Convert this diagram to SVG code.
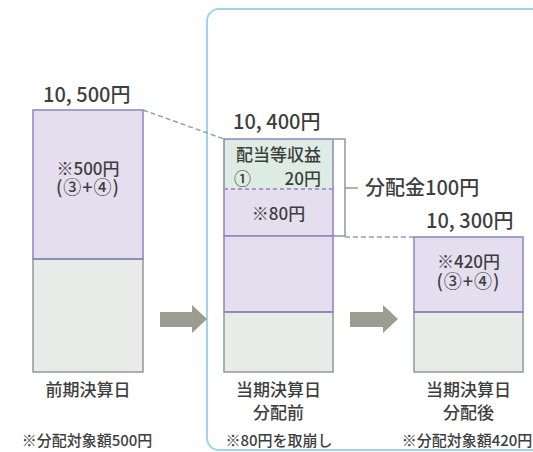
<svg xmlns="http://www.w3.org/2000/svg" width="533" height="452" viewBox="0 0 533 452">
<style>
text{font-family:"Noto Sans CJK JP","Noto Sans",sans-serif;fill:#3e3e3e;font-weight:500}
.big{font-size:20px}
.mid{font-size:17px}
.par{font-size:18px;letter-spacing:1px}
.note{font-size:15px}
.pur{fill:#e4deee;stroke:#8c84bc;stroke-width:1.5}
.gry{fill:#e9ebe9;stroke:#8c9a9c;stroke-width:1.5}
.grn{fill:#ddede4;stroke:#8c84bc;stroke-width:1.5}
.dash{fill:none;stroke:#8ea2b2;stroke-width:1.5;stroke-dasharray:5 3}
.brk{fill:none;stroke:#8c9aa0;stroke-width:1.5}
.arr{fill:#9c9c90}
</style>
<rect width="533" height="452" fill="#ffffff"/>
<rect id="period-frame" x="207" y="9" width="360" height="441" rx="12" ry="12" fill="none" stroke="#a2d2ec" stroke-width="2"/>

<g id="prev-settlement">
<text class="big" x="43" y="102">10, 500円</text>
<rect class="pur" x="33" y="110" width="110" height="149"/>
<rect class="gry" x="33" y="259" width="110" height="113"/>
<line x1="33" y1="259" x2="143" y2="259" stroke="#8c84bc" stroke-width="1.5"/>
<text class="mid" x="88" y="175" text-anchor="middle">※500円</text>
<text class="par" x="88" y="194" text-anchor="middle">(③+④)</text>
<text class="mid" x="88" y="396" text-anchor="middle">前期決算日</text>
<text class="note" x="87" y="446" text-anchor="middle">※分配対象額500円</text>
</g>

<g id="before-distribution">
<text class="big" x="233" y="129">10, 400円</text>
<rect class="grn" x="224" y="139" width="109" height="50"/>
<rect class="pur" x="224" y="189" width="109" height="47"/>
<rect class="pur" x="224" y="236" width="109" height="76"/>
<rect class="gry" x="224" y="312" width="109" height="60"/>
<line x1="224" y1="312" x2="333" y2="312" stroke="#8c84bc" stroke-width="1.5"/>
<line x1="224" y1="189" x2="333" y2="189" stroke="#e4deee" stroke-width="2"/>
<line x1="224" y1="189" x2="333" y2="189" stroke="#8c84bc" stroke-width="1.5" stroke-dasharray="4 3"/>
<text class="mid" x="278.5" y="161" text-anchor="middle">配当等収益</text>
<text class="mid" x="234" y="185">①</text>
<text class="mid" x="321" y="185" text-anchor="end">20円</text>
<text class="mid" x="278.5" y="220" text-anchor="middle">※80円</text>
<text class="mid" x="278.5" y="396" text-anchor="middle">当期決算日</text>
<text class="mid" x="278.5" y="419" text-anchor="middle">分配前</text>
<text class="note" x="279" y="446" text-anchor="middle">※80円を取崩し</text>
</g>

<g id="after-distribution">
<text class="big" x="426" y="228">10, 300円</text>
<rect class="pur" x="414" y="237" width="109" height="75"/>
<rect class="gry" x="414" y="312" width="109" height="60"/>
<line x1="414" y1="312" x2="523" y2="312" stroke="#8c84bc" stroke-width="1.5"/>
<text class="mid" x="468.5" y="268" text-anchor="middle">※420円</text>
<text class="par" x="468.5" y="288" text-anchor="middle">(③+④)</text>
<text class="mid" x="468.5" y="396" text-anchor="middle">当期決算日</text>
<text class="mid" x="468.5" y="419" text-anchor="middle">分配後</text>
<text class="note" x="467" y="446" text-anchor="middle">※分配対象額420円</text>
</g>

<g id="distribution-label">
<text class="big" x="365" y="195">分配金100円</text>
</g>

<g id="connectors">
<line class="dash" x1="143" y1="110" x2="224" y2="139"/>
<polyline class="brk" points="334,139 345,139 345,236 334,236"/>
<line class="brk" x1="345" y1="188" x2="358" y2="188"/>
<line class="dash" x1="345" y1="237" x2="414" y2="237"/>
<polygon class="arr" points="160,312 192,312 192,305 207,319 192,333 192,327 160,327"/>
<polygon class="arr" points="350,312 383,312 383,305 398,319 383,333 383,327 350,327"/>
</g>
</svg>
